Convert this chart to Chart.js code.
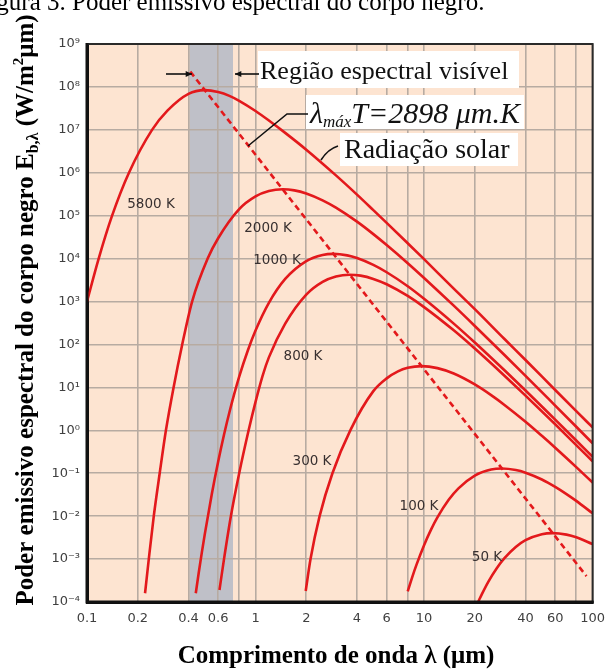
<!DOCTYPE html>
<html lang="pt">
<head>
<meta charset="utf-8">
<title>Poder emissivo espectral do corpo negro</title>
<script src="https://cdn.jsdelivr.net/npm/chart.js@4.4.1/dist/chart.umd.min.js"></script>
<style>
  html, body { margin: 0; padding: 0; background: #ffffff; }
  canvas { display: block; }
</style>
</head>
<body>
<canvas id="chart" width="614" height="670"></canvas>
<script>
// Spectral emissive power of a black body, E_b,λ in W/(m²·µm), against wavelength λ in µm.
const lambda5800 = [0.1, 0.1173, 0.1409, 0.1774, 0.2432, 0.3, 0.4, 0.5, 0.6, 0.7, 0.8, 1, 1.2, 1.5, 2, 3, 4, 5, 6, 8, 10, 15, 20, 30, 40, 60, 80, 100];
const power5800  = [1.0e3, 1.0e4, 1.0e5, 1.0e6, 1.0e7, 2.8e7, 6.9e7, 8.4e7, 7.6e7, 6.2e7, 4.75e7, 2.75e7, 1.65e7, 8.5e6, 3.45e6, 8.7e5, 3.1e5, 1.35e5, 6.8e4, 2.28e4, 9.7e3, 2.0e3, 665, 134, 43.5, 8.7, 2.8, 1.17];

const lambda2000 = [0.221, 0.2326, 0.249, 0.27, 0.294, 0.3264, 0.3673, 0.4204, 0.52, 0.6, 0.8, 1, 1.2, 1.45, 1.7, 2, 2.5, 3, 4, 5, 6, 8, 10, 15, 20, 30, 40, 60, 80, 100];
const power2000  = [1.6e-4, 1e-3, 1e-2, 0.1, 1, 10, 100, 1000, 1e4, 2.98e4, 1.42e5, 2.81e5, 3.75e5, 4.12e5, 3.89e5, 3.30e5, 2.28e5, 1.54e5, 7.26e4, 3.72e4, 2.07e4, 7.84e3, 3.55e3, 801, 270, 56.8, 18.6, 3.77, 1.21, 0.50];

const lambda1000 = [0.442, 0.46, 0.48, 0.5, 0.55, 0.6, 0.65, 0.7, 0.8, 0.9, 1, 1.2, 1.5, 2, 2.5, 2.9, 3.5, 4, 5, 6, 8, 10, 15, 20, 30, 40, 60, 80, 100];
const power1000  = [1.6e-4, 4.73e-4, 1.41e-3, 3.81e-3, 0.0324, 0.185, 0.787, 2.64, 17.7, 72.3, 211, 933, 3.37e3, 8.79e3, 1.22e4, 1.29e4, 1.19e4, 1.03e4, 7.13e3, 4.81e3, 2.27e3, 1.16e3, 306, 111, 25.0, 8.45, 1.77, 0.58, 0.242];

const lambda800 = [0.611, 0.65, 0.714, 0.8, 0.91, 1, 1.1, 1.2, 1.5, 2, 2.5, 3, 3.6, 4.2, 5, 6, 8, 10, 15, 20, 30, 40, 60, 80, 100];
const power800  = [1.9e-4, 1e-3, 1e-2, 0.1, 1, 4.6, 18.4, 50, 306, 1454, 2.88e3, 3.84e3, 4.22e3, 4.01e3, 3.37e3, 2.53e3, 1.35e3, 742, 213, 80.2, 18.7, 6.44, 1.38, 0.453, 0.19];

const lambda300 = [1.985, 2.12, 2.4, 2.86, 3.65, 5, 6, 7, 8, 9.66, 12, 15, 20, 25, 30, 40, 50, 60, 80, 100];
const power300  = [1.8e-4, 1e-3, 1e-2, 0.1, 1, 8.17, 16.2, 23.6, 28.5, 31.3, 28.1, 21.0, 11.7, 6.59, 3.90, 1.58, 0.743, 0.393, 0.139, 0.0608];

const lambda100 = [8, 8.5, 9, 10, 11, 12, 14, 16, 20, 25, 29, 35, 40, 50, 60, 70, 80, 100];
const power100  = [1.77e-4, 3.76e-4, 7.23e-4, 2.11e-3, 4.84e-3, 9.33e-3, 0.024, 0.0444, 0.0879, 0.1216, 0.1286, 0.1186, 0.103, 0.0714, 0.0481, 0.0327, 0.0227, 0.01164];

const lambda50 = [21, 22, 24, 27, 30, 35, 40, 50, 58, 70, 80, 100];
const power50  = [1.03e-4, 1.51e-4, 2.92e-4, 6.13e-4, 1.05e-3, 1.91e-3, 2.75e-3, 3.80e-3, 4.02e-3, 3.71e-3, 3.22e-3, 2.23e-3];

// Wien's displacement locus, λmáx·T = 2898 µm·K (straight on log–log axes)
const wienLambda = [0.41, 92];
const wienPower  = [2.27e8, 4.0e-4];

const temperatureLabels = ['5800 K', '2000 K', '1000 K', '800 K', '300 K', '100 K', '50 K'];
const xTickValues = [0.1, 0.2, 0.4, 0.6, 1, 2, 4, 6, 10, 20, 40, 60, 100];
const xGridOnlyValues = [0.8, 8, 80];
const yTickExponents = [-4, -3, -2, -1, 0, 1, 2, 3, 4, 5, 6, 7, 8, 9];
const visibleBand = [0.405, 0.735];

const RED = '#e3191c';
const PLOT_BG = '#fde4d1';
const BAND_BG = '#bfc0c8';
const GRID = '#b7aba2';
const SERIF = '"Liberation Serif", "Times New Roman", serif';
const SANS = '"DejaVu Sans", Verdana, sans-serif';

const SUP = {'-': '⁻', '0': '⁰', '1': '¹', '2': '²', '3': '³', '4': '⁴', '5': '⁵', '6': '⁶', '7': '⁷', '8': '⁸', '9': '⁹'};
const superscript = n => String(n).split('').map(c => SUP[c]).join('');

const pairs = (xs, ys) => xs.map((x, i) => ({ x, y: ys[i] }));

const curve = (label, xs, ys) => ({
  label, data: pairs(xs, ys),
  borderColor: RED, borderWidth: 2.6, pointRadius: 0,
  cubicInterpolationMode: 'monotone', fill: false
});

const datasets = [
  curve(temperatureLabels[0], lambda5800, power5800),
  curve(temperatureLabels[1], lambda2000, power2000),
  curve(temperatureLabels[2], lambda1000, power1000),
  curve(temperatureLabels[3], lambda800, power800),
  curve(temperatureLabels[4], lambda300, power300),
  curve(temperatureLabels[5], lambda100, power100),
  curve(temperatureLabels[6], lambda50, power50),
  { label: 'λmáxT', data: pairs(wienLambda, wienPower), borderColor: RED, borderWidth: 2.6,
    borderDash: [6, 4], pointRadius: 0, tension: 0, fill: false }
];

// Text made of runs with their own font and vertical offset
function richWidth(ctx, parts) {
  let w = 0;
  for (const p of parts) { ctx.font = p.font; w += ctx.measureText(p.text).width; }
  return w;
}
function drawRich(ctx, parts, x, y) {
  let cx = x;
  for (const p of parts) {
    ctx.font = p.font;
    ctx.fillText(p.text, cx, y + (p.dy || 0));
    cx += ctx.measureText(p.text).width;
  }
}
function arrow(ctx, x0, y0, x1, y1) {
  const ang = Math.atan2(y1 - y0, x1 - x0), h = 7;
  ctx.beginPath(); ctx.moveTo(x0, y0); ctx.lineTo(x1, y1); ctx.stroke();
  ctx.beginPath();
  ctx.moveTo(x1, y1);
  ctx.lineTo(x1 - h * Math.cos(ang - 0.45), y1 - h * Math.sin(ang - 0.45));
  ctx.lineTo(x1 - h * Math.cos(ang + 0.45), y1 - h * Math.sin(ang + 0.45));
  ctx.closePath(); ctx.fill();
}

const decorations = {
  id: 'decorations',
  beforeDraw(chart) {
    const { ctx, chartArea: a, scales: { x } } = chart;
    ctx.save();
    ctx.fillStyle = '#ffffff';
    ctx.fillRect(0, 0, chart.width, chart.height);
    ctx.fillStyle = PLOT_BG;
    ctx.fillRect(a.left, a.top, a.right - a.left, a.bottom - a.top);
    const b0 = x.getPixelForValue(visibleBand[0]);
    const b1 = x.getPixelForValue(visibleBand[1]);
    ctx.fillStyle = BAND_BG;
    ctx.fillRect(b0, a.top, b1 - b0, a.bottom - a.top);
    ctx.restore();
  },
  afterDatasetsDraw(chart) {
    const { ctx, chartArea: a } = chart;
    ctx.save();

    // frame
    ctx.strokeStyle = '#2a2a2a';
    ctx.lineWidth = 2;
    ctx.strokeRect(a.left, a.top, a.right - a.left, a.bottom - a.top);
    ctx.strokeStyle = '#111111';
    ctx.lineWidth = 3;
    ctx.beginPath();
    ctx.moveTo(a.left, a.top - 1); ctx.lineTo(a.left, a.bottom); ctx.lineTo(a.right + 1, a.bottom);
    ctx.stroke();

    // isotherm labels
    ctx.fillStyle = '#383030';
    ctx.font = '13.5px ' + SANS;
    ctx.textAlign = 'center';
    ctx.textBaseline = 'middle';
    const labelPos = [[151, 204], [268, 228], [277, 260], [303, 356], [312, 461], [419, 506], [487, 557]];
    temperatureLabels.forEach((t, i) => ctx.fillText(t, labelPos[i][0], labelPos[i][1]));

    // white boxes behind the annotations
    ctx.fillStyle = '#ffffff';
    ctx.fillRect(258, 51, 261, 37);
    ctx.fillRect(306, 95, 218, 34);
    ctx.fillRect(340, 133, 178, 33);

    ctx.textAlign = 'left';
    ctx.textBaseline = 'alphabetic';
    ctx.fillStyle = '#111111';
    ctx.strokeStyle = '#111111';
    ctx.lineWidth = 1.6;

    // visible band arrows
    arrow(ctx, 166, 74, 192, 74);
    arrow(ctx, 259, 74, 235, 74);
    ctx.font = '26px ' + SERIF;
    ctx.fillText('Região espectral visível', 260, 79);

    // Wien's law note
    ctx.beginPath();
    ctx.moveTo(248, 146); ctx.lineTo(287, 114); ctx.lineTo(308, 114);
    ctx.stroke();
    drawRich(ctx, [
      { text: 'λ', font: 'italic 30px ' + SERIF },
      { text: 'máx', font: 'italic 17px ' + SERIF, dy: 4 },
      { text: 'T=2898 ', font: 'italic 30px ' + SERIF },
      { text: 'μm.K', font: 'italic 30px ' + SERIF }
    ], 310, 123);

    // solar radiation note
    ctx.beginPath();
    ctx.moveTo(321, 160); ctx.quadraticCurveTo(328, 149, 338, 146);
    ctx.stroke();
    ctx.font = '28px ' + SERIF;
    ctx.fillText('Radiação solar', 344, 158);

    ctx.restore();
  },
  afterDraw(chart) {
    const { ctx } = chart;
    ctx.save();
    ctx.fillStyle = '#000000';
    ctx.textBaseline = 'alphabetic';

    // caption line above the chart
    ctx.font = '25px ' + SERIF;
    ctx.textAlign = 'left';
    const lead = 'Figura 3. ';
    const leadW = ctx.measureText(lead).width;
    ctx.fillText(lead + 'Poder emissivo espectral do corpo negro.', 72 - leadW, 10);

    // x-axis title
    ctx.font = 'bold 25px ' + SERIF;
    ctx.textAlign = 'center';
    ctx.fillText('Comprimento de onda λ (μm)', 336, 663);

    // y-axis title
    const parts = [
      { text: 'Poder emissivo espectral do corpo negro E', font: 'bold 25px ' + SERIF },
      { text: 'b,λ', font: 'bold 16px ' + SERIF, dy: 5 },
      { text: ' (W/m', font: 'bold 25px ' + SERIF },
      { text: '2', font: 'bold 15px ' + SERIF, dy: -10 },
      { text: 'μm)', font: 'bold 25px ' + SERIF }
    ];
    ctx.textAlign = 'left';
    const w = richWidth(ctx, parts);
    ctx.translate(33, 310);
    ctx.rotate(-Math.PI / 2);
    drawRich(ctx, parts, -w / 2, 0);
    ctx.restore();
  }
};

new Chart(document.getElementById('chart'), {
  type: 'line',
  data: { datasets },
  options: {
    responsive: false,
    animation: false,
    devicePixelRatio: 1,
    layout: { padding: { left: 0, right: 14, top: 44, bottom: 0 } },
    plugins: { legend: { display: false }, tooltip: { enabled: false } },
    scales: {
      x: {
        type: 'logarithmic',
        min: 0.1, max: 100,
        afterBuildTicks: s => {
          s.ticks = xTickValues.concat(xGridOnlyValues).sort((p, q) => p - q).map(v => ({ value: v }));
        },
        afterFit: s => { s.height = 68; },
        ticks: {
          autoSkip: false, maxRotation: 0, padding: 9,
          color: '#404040', font: { family: SANS, size: 13 },
          callback: v => xTickValues.includes(v) ? String(v) : ''
        },
        grid: { color: GRID, lineWidth: 1.6, drawTicks: false },
        border: { display: true, color: '#111', width: 3 }
      },
      y: {
        type: 'logarithmic',
        min: 1e-4, max: 1e9,
        afterBuildTicks: s => {
          s.ticks = yTickExponents.map(e => ({ value: Number('1e' + e) }));
        },
        afterFit: s => { s.width = 87; },
        ticks: {
          autoSkip: false, padding: 7,
          color: '#404040', font: { family: SANS, size: 13 },
          callback: v => '10' + superscript(Math.round(Math.log10(v)))
        },
        grid: { color: GRID, lineWidth: 1.6, drawTicks: false },
        border: { display: true, color: '#111', width: 3 }
      }
    }
  },
  plugins: [decorations]
});
</script>
</body>
</html>
